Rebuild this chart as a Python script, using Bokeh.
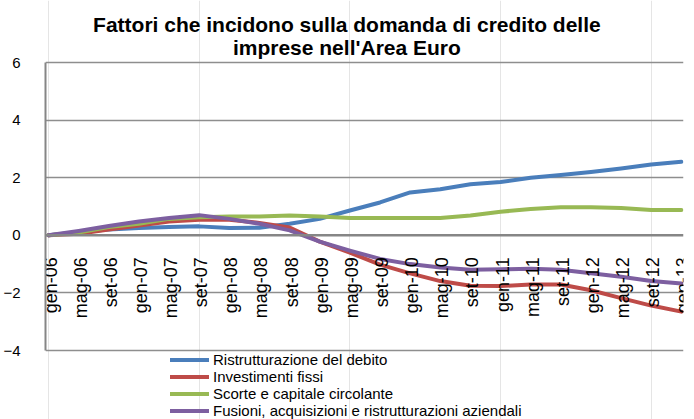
import math
from bokeh.plotting import figure
from bokeh.models import (Range1d, ColumnDataSource, Legend, LegendItem, Label,
                          Span, FixedTicker)
from bokeh.core.properties import value
from bokeh.embed import file_html
from bokeh.resources import INLINE

labels = ["gen-06", "mag-06", "set-06", "gen-07", "mag-07", "set-07", "gen-08",
          "mag-08", "set-08", "gen-09", "mag-09", "set-09", "gen-10", "mag-10",
          "set-10", "gen-11", "mag-11", "set-11", "gen-12", "mag-12", "set-12",
          "gen-13"]

ristrutturazione = [0, 0.11, 0.2, 0.25, 0.29, 0.31, 0.25, 0.26, 0.4, 0.57, 0.86,
                    1.14, 1.49, 1.6, 1.77, 1.85, 2.0, 2.09, 2.2, 2.32, 2.46, 2.55]
investimenti = [0, 0.05, 0.2, 0.34, 0.48, 0.54, 0.54, 0.43, 0.27, -0.22, -0.6,
                -1.02, -1.32, -1.59, -1.75, -1.76, -1.71, -1.71, -1.91, -2.18,
                -2.44, -2.65]
scorte = [0, 0.1, 0.29, 0.4, 0.57, 0.63, 0.65, 0.65, 0.69, 0.65, 0.6, 0.6, 0.6,
          0.6, 0.69, 0.82, 0.91, 0.97, 0.97, 0.95, 0.88, 0.88]
fusioni = [0, 0.15, 0.32, 0.48, 0.6, 0.7, 0.57, 0.4, 0.17, -0.22, -0.53, -0.82,
           -1.0, -1.12, -1.2, -1.18, -1.16, -1.2, -1.32, -1.44, -1.59, -1.67]

series_names = ["Ristrutturazione del debito", "Investimenti fissi",
                "Scorte e capitale circolante",
                "Fusioni, acquisizioni e ristrutturazioni aziendali"]
series_values = [ristrutturazione, investimenti, scorte, fusioni]
series_colors = ["#4A7EBB", "#BE4B48", "#98B954", "#7D5FA0"]

y_ticks = [-4, -2, 0, 2, 4, 6]
title_lines = ["Fattori che incidono sulla domanda di credito delle",
               "imprese nell'Area Euro"]

FONT = "Liberation Sans"
xs = list(range(len(labels)))

# geometry (pixels)
W, H = 694, 419
PX_PER_UNIT = 28.8   # 288 px for the 10 units between -4 and 6
TOP_PAD = 62         # figure top -> "6" gridline
BOT_PAD = 69         # "-4" gridline -> figure bottom
y_top = y_ticks[-1] + TOP_PAD / PX_PER_UNIT
y_bot = y_ticks[0] - BOT_PAD / PX_PER_UNIT


def px_to_y(py):
    """figure pixel row -> data y"""
    return y_top - py / PX_PER_UNIT


p = figure(width=W, height=H, output_backend="svg", toolbar_location=None,
           title=None, x_axis_location=None,
           x_range=Range1d(-0.1, 21.07), y_range=Range1d(y_bot, y_top),
           min_border_left=44, min_border_right=11, min_border_top=0,
           min_border_bottom=0)
p.outline_line_color = None
p.background_fill_color = "white"
p.border_fill_color = "white"

# y axis
p.yaxis.ticker = FixedTicker(ticks=y_ticks)
p.yaxis.bounds = (y_ticks[0], y_ticks[-1])
p.yaxis.axis_line_color = "#868686"
p.yaxis.axis_line_width = 2
p.yaxis.major_tick_line_color = None
p.yaxis.minor_tick_line_color = None
p.yaxis.major_label_text_font = FONT
p.yaxis.major_label_text_font_size = "15px"
p.yaxis.major_label_text_color = "#000000"
p.yaxis.major_label_standoff = 19
p.ygrid.ticker = FixedTicker(ticks=[-4, -2, 2, 4, 6])
p.ygrid.grid_line_color = "#8E8E8E"
p.ygrid.grid_line_width = 1.5

# zero (category axis) line
p.add_layout(Span(location=0, dimension="width", line_color="#868686",
                  line_width=2.5))

renderers = []
for name, vals, col in zip(series_names, series_values, series_colors):
    src = ColumnDataSource(dict(x=xs, y=vals))
    r = p.line("x", "y", source=src, line_color=col, line_width=4,
               line_join="round", line_cap="round")
    renderers.append((name, r))

# category labels below the zero line (rotated, reading upwards)
label_gap = 22 / PX_PER_UNIT
label_shift = 2 / 30.2
lab_src = ColumnDataSource(dict(x=[v + label_shift for v in xs],
                                y=[-label_gap] * len(xs), text=labels))
p.text("x", "y", text="text", source=lab_src, angle=math.pi / 2,
       text_align="right", text_baseline="middle",
       text_font=value(FONT), text_font_size="18px", text_color="#000000")

legend = Legend(items=[LegendItem(label=n, renderers=[r]) for n, r in renderers],
                location=(125, 0), orientation="vertical",
                glyph_width=39, glyph_height=17, label_height=17, spacing=0,
                label_standoff=4, padding=0, margin=0,
                label_text_font=FONT, label_text_font_size="15px",
                label_text_color="#000000",
                border_line_color=None, background_fill_alpha=0)
p.add_layout(legend, "center")

# title (two centred lines)
for txt, py in zip(title_lines, [23.7, 47.0]):
    p.add_layout(Label(x=9.9, y=px_to_y(py), text=txt, text_align="center",
                       text_baseline="alphabetic", text_font=FONT,
                       text_font_size="21px", text_font_style="bold",
                       text_color="#000000"))

open("out.html", "w").write(file_html(p, INLINE))
